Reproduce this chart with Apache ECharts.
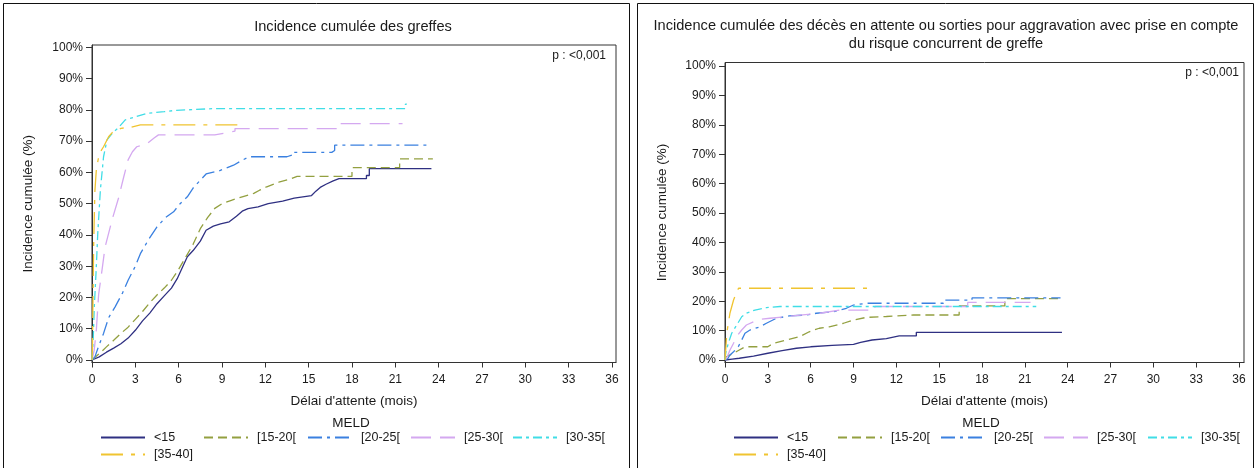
<!DOCTYPE html>
<html><head><meta charset="utf-8">
<script src="https://cdn.jsdelivr.net/npm/echarts@6/dist/echarts.min.js"></script>
<style>html,body{margin:0;padding:0;background:#fff;}#c{width:1256px;height:468px;}</style>
</head><body><div id="c"></div>
<script>
// ---- data ----
const groups = ['<15', '[15-20[', '[20-25[', '[25-30[', '[30-35[', '[35-40]'];
const monthTicks = [0, 3, 6, 9, 12, 15, 18, 21, 24, 27, 30, 33, 36];
const pctTicks = [0, 10, 20, 30, 40, 50, 60, 70, 80, 90, 100];
const pValueText = 'p : <0,001';

// Left: cumulative incidence of grafts, curve corners [month, %]
const graftLt15 = [[0,0],[0.5,1],[1,2.5],[1.5,3.8],[2,5.2],[2.5,7],[3,9.5],[3.5,12.5],[4,15],[4.5,18],[5,20.5],[5.5,23],[5.9,26],[6.2,29],[6.6,33],[7,35],[7.5,38],[7.9,41.5],[8.4,42.8],[8.9,43.5],[9.5,44.2],[10,46],[10.4,47.6],[10.8,48.4],[11.5,49],[12.2,50],[13.2,50.8],[14,51.8],[15.2,52.6],[15.5,54],[15.8,55.2],[16.2,56.2],[16.7,57.3],[17.1,58],[19,58],[19,59],[19.2,59],[19.2,61.2],[23.5,61.2]];
const graft15_20 = [[0,0],[0.5,2],[1,4.2],[1.5,6.3],[2,8.5],[2.5,10.5],[3,13],[3.5,15.5],[4,18.3],[4.5,20.8],[5,23],[5.5,25.5],[6,29],[6.5,33],[7,37],[7.5,42],[8,45.5],[8.5,48.5],[9,50],[9.6,51],[10.4,52.2],[11.2,53.3],[11.6,54.3],[12.1,55.4],[13,57],[13.7,57.8],[14.2,58.7],[18,58.7],[18,61.5],[21.3,61.5],[21.3,64.3],[23.6,64.3]];
const graft20_25 = [[0,0],[0.2,1],[0.45,4.3],[0.8,8.5],[1.15,13.5],[1.6,17],[2.1,21.3],[2.5,25.5],[3,30],[3.35,34],[3.9,38.4],[4.5,42.6],[5.1,45.6],[5.65,47.4],[6.1,50],[6.6,52.2],[7,55],[7.5,57.5],[7.9,59.5],[8.8,60.5],[9.8,62.3],[10.4,63.9],[10.9,65],[13.5,65],[13.5,65.6],[13.9,65.6],[13.9,66.4],[16.6,66.4],[16.6,67],[16.8,67],[16.8,68.7],[23.4,68.7]];
const graft25_30 = [[0,0],[0.15,3],[0.3,9.6],[0.46,21],[0.7,29],[0.9,36],[1.4,45],[1.85,52],[2.2,58.6],[2.5,64],[2.8,66.6],[3.1,68.2],[3.8,69.2],[4.3,71],[4.6,72],[8.5,72],[8.5,72.6],[9.2,72.6],[9.2,73.2],[9.9,73.2],[9.9,74],[17,74],[17,75.6],[21.5,75.6]];
const graft30_35 = [[0,0],[0.08,6],[0.16,17],[0.28,28],[0.4,40.5],[0.58,54.4],[0.8,65],[1.04,70.4],[1.4,72.5],[1.85,74.4],[2.3,76.8],[2.9,77.6],[3.8,78.9],[5,79.4],[5.7,79.8],[8.4,80.4],[21.7,80.4],[21.7,81.8],[21.8,81.8]];
const graft35_40 = [[0,0],[0.03,3],[0.06,17],[0.12,38],[0.2,54],[0.3,60.8],[0.5,66],[0.8,68.2],[1.15,71.4],[1.4,72.7],[2,74.1],[2.65,74.4],[3.35,75.2],[10.3,75.2]];

// Right: cumulative incidence of deaths / withdrawals, curve corners [month, %]
const deathLt15 = [[0,0],[0.5,0.3],[1,0.6],[2,1.3],[3,2.3],[4,3.2],[5,4],[6,4.5],[7.5,5],[9,5.3],[9.5,6],[10.3,6.8],[11.3,7.3],[12.2,8.2],[13.4,8.2],[13.4,9.4],[23.6,9.4]];
const death15_20 = [[0,0],[0.1,1.1],[0.6,2.3],[1,3.4],[1.4,4.5],[3,4.5],[3.4,5.7],[4.3,6.8],[5.2,7.9],[5.9,9.6],[6.6,10.8],[7.3,11.3],[8.3,12.5],[9,13.6],[9.9,14.5],[11.3,14.8],[13.2,15.3],[16.4,15.3],[16.4,18.4],[19.6,18.4],[19.6,20.9],[23.6,20.9]];
const death20_25 = [[0,0],[0.2,0.5],[0.35,1.7],[0.6,2.8],[0.93,4.5],[1.17,6.8],[1.4,9.1],[1.75,10.2],[2.45,11.3],[2.9,12.5],[3.6,14.2],[4.5,15],[5.7,15.3],[6.4,15.9],[7.6,16.4],[8.5,17.6],[9,18.7],[9.9,19.3],[15.3,19.3],[15.3,20.4],[17.3,20.4],[17.3,21.1],[23.5,21.1]];
const death25_30 = [[0,0],[0.15,1],[0.35,3.4],[0.6,5.7],[0.8,7.9],[1.17,10.2],[1.5,11.9],[2,13],[2.45,13.8],[3.15,14.2],[4.3,14.7],[5.25,15.3],[6.65,15.9],[8.05,17],[10.5,17],[10.5,18.2],[17,18.2],[17,19.6],[21.4,19.6]];
const death30_35 = [[0,0],[0.05,2.3],[0.23,5.7],[0.47,9.1],[0.82,11.9],[1.17,14.7],[1.5,15.9],[2.1,17],[2.9,17.8],[3.85,18.2],[21.8,18.2]];
const death35_40 = [[0,0],[0.05,3.4],[0.12,9],[0.35,16],[0.6,20.4],[0.82,23.2],[0.95,24.4],[10,24.4]];

const graftSeries = [graftLt15, graft15_20, graft20_25, graft25_30, graft30_35, graft35_40];
const deathSeries = [deathLt15, death15_20, death20_25, death25_30, death30_35, death35_40];

// ---- styles ----
const colors = ['#2f3082', '#93a040', '#3a80e0', '#d4a8f0', '#40dde6', '#f0c430'];
const dashes = ['solid', [9,5], [14,5,3,5], [20,9], [9,4,3,4], [22,8,4,8]];
const FF = '"Liberation Sans", Arial, sans-serif';
const TXT = '#1a1a1a';

const chart = echarts.init(document.getElementById('c'), null, {renderer: 'canvas'});

function xAxis(gi, max) {
  return {
    type: 'value', gridIndex: gi, min: 0, max: max,
    name: "Délai d'attente (mois)", nameLocation: 'middle', nameGap: 32,
    nameTextStyle: {fontFamily: FF, fontSize: 13.5, color: TXT},
    axisLine: {onZero: false, lineStyle: {color: '#333', width: 1}},
    axisTick: {length: 5, customValues: monthTicks, lineStyle: {color: '#333'}},
    axisLabel: {customValues: monthTicks, margin: 11, fontFamily: FF, fontSize: 12, color: TXT},
    splitLine: {show: false}
  };
}
function yAxis(gi, min, max, gap) {
  return {
    type: 'value', gridIndex: gi, min: min, max: max,
    name: 'Incidence cumulée (%)', nameLocation: 'middle', nameGap: gap, nameRotate: 90,
    nameTextStyle: {fontFamily: FF, fontSize: 13.5, color: TXT},
    axisLine: {onZero: false, lineStyle: {color: '#333', width: 1}},
    axisTick: {length: 6, customValues: pctTicks, lineStyle: {color: '#333'}},
    axisLabel: {customValues: pctTicks, margin: 9, fontFamily: FF, fontSize: 12, color: TXT,
      formatter: v => Math.round(v) + '%'},
    splitLine: {show: false}
  };
}

const series = [];
[graftSeries, deathSeries].forEach((set, gi) => {
  set.forEach((d, i) => {
    series.push({
      type: 'line', name: groups[i], xAxisIndex: gi, yAxisIndex: gi,
      data: d, symbol: 'none', silent: true, animation: false,
      color: colors[i],
      lineStyle: {color: colors[i], width: 1.3, type: dashes[i]}
    });
  });
});

const legendLeftL = [100, 203, 307, 410, 512];
const legendLeftR = [733, 837, 940, 1043, 1147];
const legends = [];
[legendLeftL, legendLeftR].forEach(cols => {
  groups.forEach((g, i) => {
    const col = i < 5 ? i : 0;
    const row = i < 5 ? 0 : 1;
    legends.push({
      data: [g], left: cols[col], top: 431 + row * 17, padding: 0,
      itemWidth: 44, itemHeight: 12, selectedMode: false,
      itemStyle: {opacity: 0},
      textStyle: {fontFamily: FF, fontSize: 12.5, color: TXT, padding: [0, 0, 0, 4]}
    });
  });
});

const option = {
  animation: false,
  backgroundColor: '#fff',
  grid: [
    {left: 92, top: 45, width: 524, height: 317.5, show: true, borderColor: '#333', borderWidth: 1, backgroundColor: 'transparent'},
    {left: 725, top: 62.5, width: 519, height: 300, show: true, borderColor: '#333', borderWidth: 1, backgroundColor: 'transparent'}
  ],
  xAxis: [xAxis(0, 36.28), xAxis(1, 36.35)],
  yAxis: [yAxis(0, -0.8, 100.74, 57), yAxis(1, -0.85, 101.2, 56)],
  legend: legends,
  series: series,
  graphic: [
    {type: 'rect', shape: {x: 3.5, y: 3.5, width: 626, height: 480}, style: {fill: 'none', stroke: '#111', lineWidth: 1}, silent: true},
    {type: 'rect', shape: {x: 637.5, y: 3.5, width: 616, height: 480}, style: {fill: 'none', stroke: '#111', lineWidth: 1}, silent: true},
    {type: 'text', x: 353, y: 27, style: {text: 'Incidence cumulée des greffes', font: '14.6px ' + FF, fill: TXT, align: 'center', verticalAlign: 'middle'}},
    {type: 'text', x: 946, y: 26, style: {text: 'Incidence cumulée des décès en attente ou sorties pour aggravation avec prise en compte', font: '14.6px ' + FF, fill: TXT, align: 'center', verticalAlign: 'middle'}},
    {type: 'text', x: 946, y: 44, style: {text: 'du risque concurrent de greffe', font: '14.6px ' + FF, fill: TXT, align: 'center', verticalAlign: 'middle'}},
    {type: 'text', x: 606, y: 56, style: {text: pValueText, font: '12px ' + FF, fill: TXT, align: 'right', verticalAlign: 'middle'}},
    {type: 'text', x: 1239, y: 73, style: {text: pValueText, font: '12px ' + FF, fill: TXT, align: 'right', verticalAlign: 'middle'}},
    {type: 'text', x: 351, y: 423, style: {text: 'MELD', font: '13.5px ' + FF, fill: TXT, align: 'center', verticalAlign: 'middle'}},
    {type: 'text', x: 981, y: 423, style: {text: 'MELD', font: '13.5px ' + FF, fill: TXT, align: 'center', verticalAlign: 'middle'}}
  ]
};
chart.setOption(option);
</script>
</body></html>
